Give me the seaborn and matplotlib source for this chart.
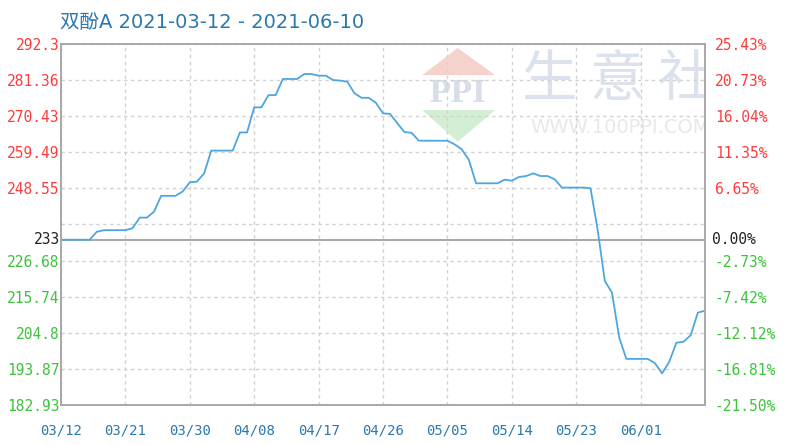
import matplotlib
matplotlib.use("Agg")
import matplotlib.pyplot as plt
import seaborn as sns
import pandas as pd
from matplotlib.patches import Polygon

# ---------------- data ----------------
title = "双酚A 2021-03-12 - 2021-06-10"
start_date = "2021-03-12"
end_date = "2021-06-10"
prices = [
    233.0, 233.0, 233.0, 233.0, 233.0, 235.4, 235.9, 235.9, 235.9, 235.9,
    236.5, 239.7, 239.7, 241.5, 246.3, 246.3, 246.3, 247.6, 250.4, 250.6,
    253.1, 260.0, 260.0, 260.0, 260.0, 265.5, 265.5, 273.1, 273.1, 276.8,
    276.8, 281.7, 281.7, 281.7, 283.2, 283.2, 282.7, 282.7, 281.4, 281.2,
    280.9, 277.4, 276.0, 276.0, 274.5, 271.3, 271.1, 268.3, 265.6, 265.4,
    263.0, 263.0, 263.0, 263.0, 263.0, 261.9, 260.4, 257.2, 250.1, 250.1,
    250.1, 250.1, 251.2, 250.9, 252.0, 252.3, 253.1, 252.3, 252.3, 251.3,
    248.8, 248.8, 248.8, 248.8, 248.6, 236.0, 220.5, 217.0, 203.5, 196.9,
    196.9, 196.9, 196.9, 195.6, 192.5, 196.0, 201.8, 202.1, 204.1, 210.9,
    211.5,
]
base_value = 233
base_label = "233"
base_pct_label = "0.00%"
grid_values = [292.3, 281.36, 270.43, 259.49, 248.55, 237.62,
               226.68, 215.74, 204.8, 193.87, 182.93]
left_labels = ["292.3", "281.36", "270.43", "259.49", "248.55", "",
               "226.68", "215.74", "204.8", "193.87", "182.93"]
right_labels = ["25.43%", "20.73%", "16.04%", "11.35%", "6.65%", "",
                "-2.73%", "-7.42%", "-12.12%", "-16.81%", "-21.50%"]
xtick_dates = ["2021-03-12", "2021-03-21", "2021-03-30", "2021-04-08",
               "2021-04-17", "2021-04-26", "2021-05-05", "2021-05-14",
               "2021-05-23", "2021-06-01"]
xtick_labels = ["03/12", "03/21", "03/30", "04/08", "04/17",
                "04/26", "05/05", "05/14", "05/23", "06/01"]

# ---------------- style ----------------
sns.set_style("white")
plt.rcParams["font.family"] = ["DejaVu Sans", "Noto Sans CJK SC"]

RED = "#ff3b3b"
GREEN = "#3cc43c"
BLUE_TXT = "#2a78ad"
LINE = "#4ea6e0"
FRAME = "#a8a8a8"
GRID = "#d2d2d2"
MONO = "DejaVu Sans Mono"

df = pd.DataFrame({
    "date": pd.date_range(start_date, end_date, freq="D"),
    "price": prices,
})

fig = plt.figure(figsize=(7.89, 4.45), dpi=100)
ax = fig.add_axes([61 / 789, 1 - 405 / 445, 644 / 789, 361 / 445])

# watermark
wm_kw = dict(transform=ax.transAxes, zorder=0, clip_on=True)
ax.add_patch(Polygon([(0.616, 0.989), (0.561, 0.914), (0.674, 0.914)],
                     closed=True, facecolor="#f6d2cc", edgecolor="none", **wm_kw))
ax.add_patch(Polygon([(0.561, 0.817), (0.674, 0.817), (0.616, 0.729)],
                     closed=True, facecolor="#d3efd3", edgecolor="none", **wm_kw))
ax.text(0.616, 0.864, "PPI", ha="center", va="center", fontsize=21,
        fontweight="bold", family="DejaVu Serif", color="#d7deea", **wm_kw)
ax.text(0.865, 0.900, "生 意 社", ha="center", va="center", fontsize=40,
        family=["Noto Sans CJK SC"], color="#dce2ed", **wm_kw)
ax.text(0.868, 0.768, "WWW.100PPI.COM", ha="center", va="center",
        fontsize=14, color="#e8e8e8", **wm_kw)

sns.lineplot(data=df, x="date", y="price", ax=ax, color=LINE,
             linewidth=1.3, zorder=3)

ax.set_xlim(df["date"].iloc[0], df["date"].iloc[-1])
ax.set_ylim(grid_values[-1], grid_values[0])

# grids
ax.set_xticks(pd.to_datetime(xtick_dates))
ax.set_xticklabels(xtick_labels)
ax.set_yticks(grid_values)
ax.set_yticklabels(left_labels)
ax.grid(True, which="major", linestyle=(0, (2.5, 2.5)), color=GRID, linewidth=1.0)
ax.axhline(base_value, color="#a0a0a0", linewidth=1.3, zorder=2)

ax.set_xlabel("")
ax.set_ylabel("")
ax.tick_params(axis="both", length=0)
ax.tick_params(axis="y", pad=1)
ax.tick_params(axis="x", pad=13)

for lab, v in zip(ax.get_yticklabels(), grid_values):
    lab.set_family(MONO)
    lab.set_fontsize(10.5)
    lab.set_color(RED if v > base_value else GREEN)
for lab in ax.get_xticklabels():
    lab.set_family(MONO)
    lab.set_fontsize(10)
    lab.set_color(BLUE_TXT)

# baseline labels
ax.text(-0.002, base_value, base_label, transform=ax.get_yaxis_transform(),
        ha="right", va="center", fontsize=10.5, family=MONO, color="#222222")

# right axis
ax2 = ax.twinx()
ax2.set_ylim(ax.get_ylim())
ax2.set_yticks(grid_values)
ax2.set_yticklabels(right_labels)
ax2.tick_params(axis="y", length=0, pad=7)
for lab, v in zip(ax2.get_yticklabels(), grid_values):
    lab.set_family(MONO)
    lab.set_fontsize(10.5)
    lab.set_color(RED if v > base_value else GREEN)
ax2.text(1.011, base_value, base_pct_label, transform=ax2.get_yaxis_transform(),
         ha="left", va="center", fontsize=10.5, family=MONO, color="#222222")

for a in (ax, ax2):
    for s in a.spines.values():
        s.set_color(FRAME)
        s.set_linewidth(1.2)

fig.text(60 / 789, 1 - 22 / 445, title, ha="left", va="center",
         fontsize=14, color=BLUE_TXT,
         family=["DejaVu Sans", "Noto Sans CJK SC"])

fig.savefig("out.png", dpi=100, facecolor="white")
